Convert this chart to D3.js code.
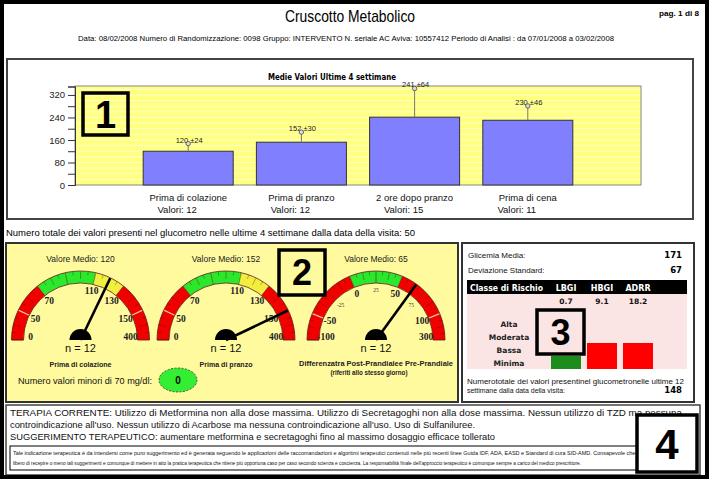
<!DOCTYPE html>
<html><head><meta charset="utf-8">
<script src="https://cdn.jsdelivr.net/npm/d3@7"></script>
<style>body{margin:0;background:#fff}svg{display:block}</style>
</head><body>
<svg id="c" width="709" height="479"></svg>
<script>
// ---------------- DATA ----------------
const reportTitle = "Cruscotto Metabolico";
const pageLabel = "pag. 1 di 8";
const headerInfo = "Data: 08/02/2008  Numero di Randomizzazione: 0098 Gruppo: INTERVENTO N. seriale AC Aviva: 10557412 Periodo di Analisi : da 07/01/2008 a 03/02/2008";

const barTitle = "Medie Valori Ultime 4 settimane";
const barCategories = ["Prima di colazione", "Prima di pranzo", "2 ore dopo pranzo", "Prima di cena"];
const barMeans = [120, 152, 241, 230];
const barSDs = [24, 30, 64, 46];
const barWhiskerTops = [147, 188, 343, 281];
const barCounts = [12, 12, 15, 11];
const yTickValues = [0, 80, 160, 240, 320];
const yMinorTickValues = [40, 120, 200, 280];

const totalValuesText = "Numero totale dei valori presenti nel glucometro nelle ultime 4 settimane dalla data della visita: 50";

const gaugeNames = ["Prima di colazione", "Prima di pranzo", "Differenzatra Post-Prandialee Pre-Prandiale"];
const gaugeSubNames = ["", "", "(riferiti allo stesso giorno)"];
const gaugeValues = [120, 152, 65];
const gaugeCounts = [12, 12, 12];
const glucoseBreaks = [0, 50, 70, 90, 110, 130, 150, 400];
const glucoseZones = ["r", "r", "g", "g", "y", "r", "r"];
const glucoseLabels = [0, 50, 70, 110, 130, 150, 400];
const glucoseSeparators = [50, 150];
const diffBreaks = [-100, -50, -25, 0, 25, 50, 75, 100, 300];
const diffZones = ["r", "r", "r", "g", "g", "r", "r", "r"];
const diffLabels = [-100, -50, 0, 50, 100, 300];
const diffMinorLabels = [-25, 25, 75];
const diffSeparators = [-50, 100];

const hypoLabel = "Numero valori minori di 70 mg/dl:";
const hypoCount = 0;

const statLabels = ["Glicemia Media:", "Deviazione Standard:"];
const statValues = [171, 67];
const riskHeader = "Classe di Rischio";
const riskIndices = ["LBGI", "HBGI", "ADRR"];
const riskValues = [0.7, 9.1, 18.2];
const riskLevels = [1, 2, 2];            // 1 = Minima, 2 = Bassa, 3 = Moderata, 4 = Alta
const riskClasses = ["Minima", "Bassa", "Moderata", "Alta"];
const total12Lines = ["Numerototale dei valori presentinel glucometronelle ultime 12", "settimane dalla data della visita:"];
const total12Value = 148;

const therapyLines = [
  "TERAPIA CORRENTE: Utilizzo di Metformina non alla dose massima. Utilizzo di Secretagoghi non alla dose massima. Nessun utilizzo di TZD ma nessuna",
  "controindicazione all'uso. Nessun utilizzo di Acarbose ma nessuna controindicazione all'uso. Uso di Sulfaniluree.",
  "SUGGERIMENTO TERAPEUTICO: aumentare metformina e secretagoghi fino al massimo dosaggio efficace tollerato"
];
const disclaimerLines = [
  "Tale indicazione terapeutica è da intendersi come puro suggerimento ed è generata seguendo le applicazioni delle raccomandazioni e algoritmi terapeutici contenuti nelle più recenti linee Guida IDF, ADA, EASD e Standard di cura SID-AMD. Consapevole che il medico è",
  "libero di recepire o meno tali suggerimenti e comunque di mettere in atto la pratica terapeutica che ritiene più opportuna caso per caso secondo scienza e coscienza. La responsabilità finale dell'approccio terapeutico è comunque sempre a carico del medico prescrittore."
];
const boxNumbers = ["1", "2", "3", "4"];

// ---------------- RENDER ----------------
const svg = d3.select("#c");
const SANS = "'Liberation Sans', Arial, sans-serif";
const VERD = "'DejaVu Sans', Verdana, sans-serif";
const SERIF = "'Liberation Serif', 'Times New Roman', serif";

function txt(g, x, y, s, o = {}) {
  const t = g.append("text").attr("x", x).attr("y", y).text(s)
    .attr("font-family", o.ff || SANS).attr("font-size", o.fs || 9)
    .attr("fill", o.fill || "#000").attr("text-anchor", o.anchor || "start");
  if (o.fw) t.attr("font-weight", o.fw);
  if (o.tl) t.attr("textLength", o.tl).attr("lengthAdjust", "spacingAndGlyphs");
  return t;
}
function numBox(x, y, w, h, label, fs, fill) {
  svg.append("rect").attr("x", x).attr("y", y).attr("width", w).attr("height", h)
    .attr("fill", fill || "none").attr("stroke", "#000").attr("stroke-width", 3.5);
  txt(svg, x + w / 2, y + h / 2 + fs * 0.36, label, { fs: fs, fw: "bold", anchor: "middle" });
}

svg.append("rect").attr("width", 709).attr("height", 479).attr("fill", "#fff");

// Header
txt(svg, 350, 22, reportTitle, { fs: 17, anchor: "middle", tl: 130 });
txt(svg, 699, 16, pageLabel, { fs: 8, anchor: "end", tl: 40, fw: "bold" });
txt(svg, 346, 41, headerInfo, { fs: 8, anchor: "middle", tl: 536 });

// ---- Panel 1: bar chart ----
svg.append("rect").attr("x", 7).attr("y", 59).attr("width", 686).attr("height", 160)
  .attr("fill", "#fff").attr("stroke", "#444").attr("stroke-width", 2);
txt(svg, 332, 80, barTitle, { ff: VERD, fs: 8.5, fw: "bold", anchor: "middle", tl: 128 });

const px0 = 75, px1 = 641, pyTop = 86, pyBot = 185;
const y = d3.scaleLinear().domain([0, 350]).range([pyBot, pyTop + 0.5]);
const x = d3.scalePoint().domain(barCategories).range([px0, px1]).padding(1);

svg.append("rect").attr("x", px0).attr("y", pyTop).attr("width", px1 - px0).attr("height", pyBot - pyTop)
  .attr("fill", "#FFFF80");
svg.append("g").selectAll("line").data(d3.range(20, 350, 20)).join("line")
  .attr("x1", px0).attr("x2", px1).attr("y1", d => y(d)).attr("y2", d => y(d))
  .attr("stroke", "#FFFFD2").attr("stroke-width", 1);
svg.append("rect").attr("x", px0).attr("y", pyTop).attr("width", px1 - px0).attr("height", pyBot - pyTop)
  .attr("fill", "none").attr("stroke", "#888").attr("stroke-width", 1);

const axMaj = svg.append("g").attr("transform", `translate(${px0},0)`)
  .call(d3.axisLeft(y).tickValues(yTickValues).tickSize(7).tickPadding(3));
const axMin = svg.append("g").attr("transform", `translate(${px0},0)`)
  .call(d3.axisLeft(y).tickValues(yMinorTickValues).tickSize(7).tickFormat(""));
[axMaj, axMin].forEach(a => {
  a.select(".domain").attr("stroke", "#333");
  a.selectAll(".tick line").attr("stroke", "#333");
  a.selectAll("text").attr("font-family", SANS).attr("font-size", 9.5).attr("fill", "#222");
});

const bw = 90;
svg.append("g").selectAll("rect").data(barCategories).join("rect")
  .attr("x", d => x(d) - bw / 2).attr("y", (d, i) => y(barMeans[i]))
  .attr("width", bw).attr("height", (d, i) => y(0) - y(barMeans[i]))
  .attr("fill", "#8080FF").attr("stroke", "#333").attr("stroke-width", 1);
svg.append("g").selectAll("line").data(barCategories).join("line")
  .attr("x1", d => x(d)).attr("x2", d => x(d))
  .attr("y1", (d, i) => y(barMeans[i])).attr("y2", (d, i) => y(barWhiskerTops[i]))
  .attr("stroke", "#777").attr("stroke-width", 1);
barCategories.forEach((c, i) => {
  txt(svg, x(c) + 1, y(barWhiskerTops[i]) - 1, barMeans[i] + "  \u00B1" + barSDs[i], { fs: 7.5, anchor: "middle", fill: "#222" });
  txt(svg, x(c), 201, c, { fs: 9.5, anchor: "middle", fill: "#111" });
  txt(svg, x(c) - 11, 213, "Valori: " + barCounts[i], { fs: 9.5, anchor: "middle", fill: "#111" });
});
svg.append("g").selectAll("circle").data(barCategories).join("circle")
  .attr("cx", d => x(d)).attr("cy", (d, i) => y(barWhiskerTops[i])).attr("r", 2.2)
  .attr("fill", "#ddd").attr("stroke", "#555").attr("stroke-width", 0.9);

numBox(83, 93, 45, 42, boxNumbers[0], 38);

txt(svg, 6, 236, totalValuesText, { fs: 9, tl: 409 });

// ---- Panel 2: gauges ----
svg.append("rect").attr("x", 6).attr("y", 243).attr("width", 452).attr("height", 159)
  .attr("fill", "#FFFA9E").attr("stroke", "#333").attr("stroke-width", 2);

const zoneColor = { r: "#F20000", g: "#2CE82C", y: "#F2EE40" };
const gaugeDefs = [
  { cx: 80.5, breaks: glucoseBreaks, zones: glucoseZones, labels: glucoseLabels, minor: [], seps: glucoseSeparators },
  { cx: 226, breaks: glucoseBreaks, zones: glucoseZones, labels: glucoseLabels, minor: [], seps: glucoseSeparators },
  { cx: 376, breaks: diffBreaks, zones: diffZones, labels: diffLabels, minor: diffMinorLabels, seps: diffSeparators }
];
const cy = 340, R = 69, r0 = 57;
const rad = t => t * Math.PI / 180;
const toD3 = t => rad(90 - t);

gaugeDefs.forEach((gd, gi) => {
  const n = gd.breaks.length - 1;
  const ang = d3.scaleLinear().domain(gd.breaks).range(gd.breaks.map((d, i) => 180 - i * 180 / n));
  const g = svg.append("g").attr("transform", `translate(${gd.cx},${cy})`);
  const arc = d3.arc().innerRadius(r0).outerRadius(R);
  for (let i = 0; i < n; i++) {
    g.append("path").attr("d", arc({ startAngle: toD3(ang(gd.breaks[i])), endAngle: toD3(ang(gd.breaks[i + 1])) }))
      .attr("fill", zoneColor[gd.zones[i]]);
  }
  for (let i = 0; i < n; i++) {
    const a0 = gd.breaks[i], a1 = gd.breaks[i + 1];
    for (let k = 0; k < 4; k++) {
      const v = a0 + (a1 - a0) * k / 4;
      const t = rad(ang(v));
      const inner = k === 0 ? r0 : (k === 2 ? R - 8 : R - 4);
      g.append("line")
        .attr("x1", inner * Math.cos(t)).attr("y1", -inner * Math.sin(t))
        .attr("x2", (R - 0.5) * Math.cos(t)).attr("y2", -(R - 0.5) * Math.sin(t))
        .attr("stroke", "rgba(60,0,0,0.55)").attr("stroke-width", k === 0 ? 0.8 : 0.6);
    }
  }
  gd.seps.forEach(v => {
    const t = rad(ang(v));
    g.append("line")
      .attr("x1", r0 * Math.cos(t)).attr("y1", -r0 * Math.sin(t))
      .attr("x2", R * Math.cos(t)).attr("y2", -R * Math.sin(t))
      .attr("stroke", "#F4C49A").attr("stroke-width", 1.3);
  });
  g.append("path").attr("d", d3.arc().innerRadius(r0).outerRadius(R)({ startAngle: -Math.PI / 2, endAngle: Math.PI / 2 }))
    .attr("fill", "none").attr("stroke", "#5a1a1a").attr("stroke-width", 0.8);
  gd.labels.forEach(v => {
    const t = rad(ang(v));
    const lx = 50 * Math.cos(t), ly = Math.min(-50 * Math.sin(t) + 3.2, -0.5);
    txt(g, lx, ly, String(v), { ff: SERIF, fs: 9.5, fw: "bold", anchor: "middle", fill: "#222" });
  });
  gd.minor.forEach(v => {
    const t = rad(ang(v));
    txt(g, 50 * Math.cos(t), -50 * Math.sin(t) + 2, String(v), { ff: SERIF, fs: 5.5, anchor: "middle", fill: "#333" });
  });
  const tv = rad(ang(gaugeValues[gi]));
  g.append("line").attr("x1", 0).attr("y1", 0)
    .attr("x2", 68.5 * Math.cos(tv)).attr("y2", -68.5 * Math.sin(tv))
    .attr("stroke", "#000").attr("stroke-width", 2.6);
  g.append("path").attr("d", d3.arc().innerRadius(0).outerRadius(11)({ startAngle: -Math.PI / 2, endAngle: Math.PI / 2 }))
    .attr("fill", "#000");
  txt(g, 0, 262 - cy, "Valore Medio: " + gaugeValues[gi], { fs: 8.5, anchor: "middle", fill: "#222" });
  txt(g, 0, 352 - cy, "n = " + gaugeCounts[gi], { fs: 11, anchor: "middle", fill: "#111" });
});
txt(svg, 80.5, 367, gaugeNames[0], { fs: 8, fw: "bold", anchor: "middle", tl: 62, fill: "#222" });
txt(svg, 226, 367, gaugeNames[1], { fs: 8, fw: "bold", anchor: "middle", tl: 53, fill: "#222" });
txt(svg, 376, 366, gaugeNames[2], { fs: 8, fw: "bold", anchor: "middle", tl: 154, fill: "#222" });
txt(svg, 369, 375, gaugeSubNames[2], { fs: 8, fw: "bold", anchor: "middle", tl: 77, fill: "#222" });

txt(svg, 18, 384, hypoLabel, { fs: 9, tl: 134, fill: "#111" });
svg.append("ellipse").attr("cx", 178).attr("cy", 380).attr("rx", 19).attr("ry", 12)
  .attr("fill", "#33EE33").attr("stroke", "#333").attr("stroke-width", 0.8).attr("stroke-dasharray", "2,1.5");
txt(svg, 178, 384, String(hypoCount), { fs: 10, fw: "bold", anchor: "middle" });

numBox(279, 250, 46, 45, boxNumbers[1], 36);

// ---- Panel 3: risk ----
svg.append("rect").attr("x", 462).attr("y", 243).attr("width", 232).attr("height", 159)
  .attr("fill", "#fff").attr("stroke", "#333").attr("stroke-width", 2);
statLabels.forEach((s, i) => {
  txt(svg, 468, 258 + i * 15, s, { fs: 8, fill: "#111" });
  txt(svg, 682, 258 + i * 15, String(statValues[i]), { ff: VERD, fs: 8.5, fw: "bold", anchor: "end" });
});
svg.append("rect").attr("x", 467).attr("y", 280).attr("width", 220).attr("height", 14).attr("fill", "#000");
const xr = d3.scalePoint().domain(riskIndices).range([566, 638]);
const yRisk = d3.scaleLinear().domain([0, 4]).range([369, 317]);
txt(svg, 470, 291, riskHeader, { ff: VERD, fs: 8, fw: "bold", fill: "#fff", tl: 73 });
riskIndices.forEach(k => txt(svg, xr(k), 291, k, { ff: VERD, fs: 8, fw: "bold", fill: "#fff", anchor: "middle" }));
svg.append("rect").attr("x", 467).attr("y", 294).attr("width", 220).attr("height", 75).attr("fill", "#FBE4E4");
riskIndices.forEach((k, i) => txt(svg, xr(k), 304, String(riskValues[i]), { ff: VERD, fs: 7.5, fw: "bold", anchor: "middle", fill: "#111" }));
riskClasses.forEach((c, j) => txt(svg, 509, yRisk(j + 1) + 10, c, { ff: VERD, fs: 7.5, fw: "bold", anchor: "middle", fill: "#222" }));
svg.append("g").selectAll("rect").data(riskIndices).join("rect")
  .attr("x", d => xr(d) - 15).attr("width", 30)
  .attr("y", (d, i) => yRisk(riskLevels[i])).attr("height", (d, i) => yRisk(0) - yRisk(riskLevels[i]))
  .attr("fill", (d, i) => riskLevels[i] === 1 ? "#1C8C1C" : "#FF0000");
numBox(537, 310, 47, 44, boxNumbers[2], 36);
txt(svg, 467, 384, total12Lines[0], { fs: 7, tl: 217, fill: "#111" });
txt(svg, 467, 393, total12Lines[1], { fs: 7, tl: 98, fill: "#111" });
txt(svg, 682, 393, String(total12Value), { ff: VERD, fs: 8.5, fw: "bold", anchor: "end" });

// ---- Panel 4: therapy ----
svg.append("rect").attr("x", 6).attr("y", 405).attr("width", 694).attr("height", 70)
  .attr("fill", "#fff").attr("stroke", "#444").attr("stroke-width", 1.5);
txt(svg, 10, 416, therapyLines[0], { fs: 9, fill: "#111", tl: 672 });
txt(svg, 10, 428, therapyLines[1], { fs: 9, fill: "#111", tl: 465 });
txt(svg, 10, 440, therapyLines[2], { fs: 9, fill: "#111", tl: 485 });
svg.append("rect").attr("x", 10).attr("y", 446).attr("width", 684).attr("height", 24)
  .attr("fill", "none").attr("stroke", "#000").attr("stroke-width", 1);
txt(svg, 13, 455, disclaimerLines[0], { fs: 5, tl: 650, fill: "#111" });
txt(svg, 13, 465, disclaimerLines[1], { fs: 5, tl: 568, fill: "#111" });
numBox(637, 415, 60, 57, boxNumbers[3], 42, "#fff");

// outer frame
svg.append("rect").attr("x", 2).attr("y", 2).attr("width", 705).attr("height", 475)
  .attr("fill", "none").attr("stroke", "#000").attr("stroke-width", 4);
</script>
</body></html>
